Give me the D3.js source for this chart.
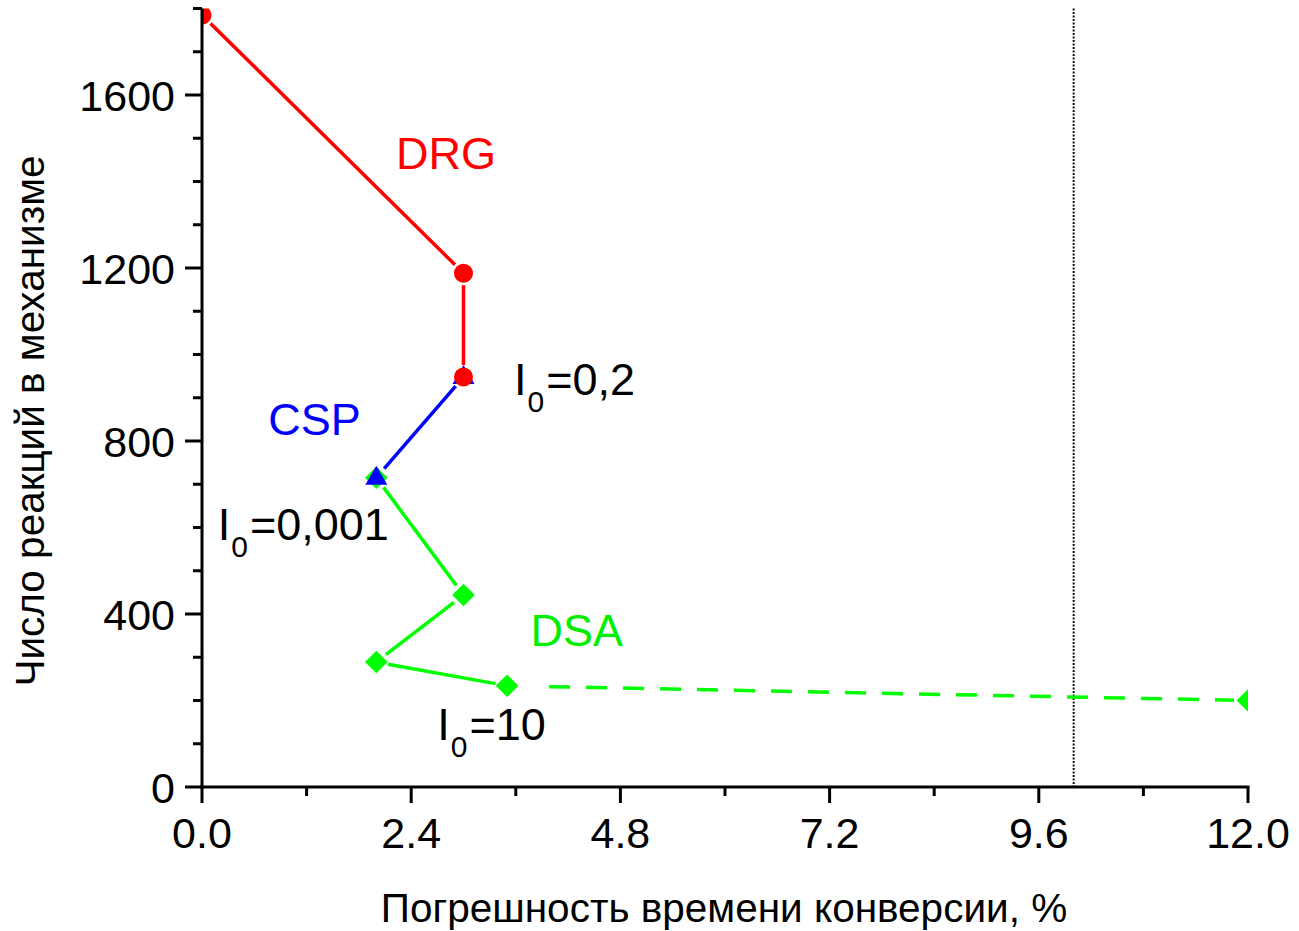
<!DOCTYPE html>
<html><head><meta charset="utf-8">
<script src="https://cdn.jsdelivr.net/npm/d3@7"></script>
<style>
html,body{margin:0;padding:0;background:#fff;}
text{font-family:"Liberation Sans",Arial,sans-serif;}
</style></head>
<body>
<svg id="chart" width="1299" height="931"></svg>
<script>
// ---- data ----
const drgX = [0, 3.0, 3.0];
const drgY = [1785, 1188, 948];
const cspX = [3.0, 2.0];
const cspY = [948, 715];
const dsaX = [2.0, 3.0, 2.0, 3.5];
const dsaY = [715, 444, 289, 234];
const dsaExtX = [3.5, 12.0];
const dsaExtY = [234, 200];
const refLineX = 10.0;
const xTicks = [0, 2.4, 4.8, 7.2, 9.6, 12.0];
const xMinorTicks = [1.2, 3.6, 6.0, 8.4, 10.8];
const yTicks = [0, 400, 800, 1200, 1600];
const yMinorTicks = [100,200,300,500,600,700,900,1000,1100,1300,1400,1500,1700,1800];
const labels = [
  {text: "DRG", color: "#ff0000", x: 2.8, y: 1430},
  {text: "CSP", color: "#0000ff", x: 1.29, y: 815},
  {text: "DSA", color: "#00ee00", x: 4.3, y: 325}
];
const ioLabels = [
  {main: "I", sub: "0", rest: "=0,2", x: 3.58, y: 907},
  {main: "I", sub: "0", rest: "=0,001", x: 0.18, y: 570},
  {main: "I", sub: "0", rest: "=10", x: 2.7, y: 109}
];

const svg = d3.select("#chart");
const L = 202, R = 1248, T = 8.5, B = 787;
const x = d3.scaleLinear().domain([0, 12]).range([L, R]);
const y = d3.scaleLinear().domain([0, 1800]).range([B, T]);

svg.append("defs").append("clipPath").attr("id","clip")
  .append("rect").attr("x", L).attr("y", T).attr("width", R-L).attr("height", B-T);

// reference dotted line
svg.append("line")
  .attr("x1", x(refLineX)).attr("x2", x(refLineX))
  .attr("y1", T).attr("y2", B)
  .attr("stroke", "#111").attr("stroke-width", 2).attr("stroke-dasharray", "2,1.5");

function seg(g, xs, ys, color, gap0, gap1, dash) {
  for (let i = 0; i < xs.length - 1; i++) {
    const x0 = x(xs[i]), y0 = y(ys[i]), x1 = x(xs[i+1]), y1 = y(ys[i+1]);
    const dx = x1 - x0, dy = y1 - y0, len = Math.hypot(dx, dy);
    const a = (i === 0 && gap0 != null) ? gap0 : 12;
    const b = (i === xs.length - 2 && gap1 != null) ? gap1 : 12;
    g.append("line")
      .attr("x1", x0 + dx * a / len).attr("y1", y0 + dy * a / len)
      .attr("x2", x1 - dx * b / len).attr("y2", y1 - dy * b / len)
      .attr("stroke", color).attr("stroke-width", 3.5)
      .attr("stroke-dasharray", dash || null);
  }
}

const plot = svg.append("g").attr("clip-path", "url(#clip)");
const green = "#00ff00";

// DSA
seg(plot, dsaX, dsaY, green);
seg(plot, dsaExtX, dsaExtY, green, 42, 14, "21,16");
const diamond = d3.symbol().type(d3.symbolSquare).size(16*16);
plot.selectAll(".dsa").data(dsaX.map((d,i)=>[d, dsaY[i]]).concat([[dsaExtX[1], dsaExtY[1]]]))
  .join("path").attr("d", diamond)
  .attr("transform", d => `translate(${x(d[0])},${y(d[1])}) rotate(45)`)
  .attr("fill", green);

// CSP
seg(plot, cspX, cspY, "#0000ff");
plot.selectAll(".csp").data(cspX.map((d,i)=>[d, cspY[i]]))
  .join("path")
  .attr("d", "M0,-12 L11,7 L-11,7 Z")
  .attr("transform", d => `translate(${x(d[0])},${y(d[1])})`)
  .attr("fill", "#0000ff");

// DRG
seg(plot, drgX, drgY, "#ff0000");
plot.selectAll(".drg").data(drgX.map((d,i)=>[d, drgY[i]]))
  .join("circle").attr("cx", d => x(d[0])).attr("cy", d => y(d[1])).attr("r", 9.5)
  .attr("fill", "#ff0000");

// axes
const axG = svg.append("g");
axG.append("line").attr("x1", L).attr("x2", L).attr("y1", T).attr("y2", B+1.5)
  .attr("stroke", "#000").attr("stroke-width", 3);
axG.append("line").attr("x1", L-1.5).attr("x2", R+1.5).attr("y1", B).attr("y2", B)
  .attr("stroke", "#000").attr("stroke-width", 3);

axG.selectAll(".xt").data(xTicks).join("line")
  .attr("x1", d => x(d)).attr("x2", d => x(d)).attr("y1", B).attr("y2", B + 16)
  .attr("stroke", "#000").attr("stroke-width", 3);
axG.selectAll(".xm").data(xMinorTicks).join("line")
  .attr("x1", d => x(d)).attr("x2", d => x(d)).attr("y1", B).attr("y2", B + 9)
  .attr("stroke", "#000").attr("stroke-width", 3);
axG.selectAll(".yt").data(yTicks).join("line")
  .attr("x1", L - 17).attr("x2", L).attr("y1", d => y(d)).attr("y2", d => y(d))
  .attr("stroke", "#000").attr("stroke-width", 3);
axG.selectAll(".ym").data(yMinorTicks).join("line")
  .attr("x1", L - 9).attr("x2", L).attr("y1", d => y(d)).attr("y2", d => y(d))
  .attr("stroke", "#000").attr("stroke-width", 3);

axG.selectAll(".xl").data(xTicks).join("text")
  .attr("x", d => x(d)).attr("y", 848).attr("text-anchor", "middle")
  .attr("font-size", 43).attr("fill", "#000").text(d => d3.format(".1f")(d));
axG.selectAll(".yl").data(yTicks).join("text")
  .attr("x", 175).attr("y", d => y(d) + 16).attr("text-anchor", "end")
  .attr("font-size", 43).attr("fill", "#000").text(d => d);

svg.append("text").attr("x", 724).attr("y", 922).attr("text-anchor", "middle")
  .attr("font-size", 40.5).attr("fill", "#000").text("Погрешность времени конверсии, %");
svg.append("text").attr("transform", "translate(44,421) rotate(-90)").attr("text-anchor", "middle")
  .attr("font-size", 40.5).attr("fill", "#000").text("Число реакций в механизме");

// series labels
svg.selectAll(".lab").data(labels).join("text")
  .attr("x", d => x(d.x)).attr("y", d => y(d.y)).attr("text-anchor", "middle")
  .attr("font-size", 45).attr("fill", d => d.color).text(d => d.text);

const io = svg.selectAll(".io").data(ioLabels).join("text")
  .attr("x", d => x(d.x)).attr("y", d => y(d.y))
  .attr("font-size", 45).attr("fill", "#000");
io.append("tspan").text(d => d.main);
io.append("tspan").attr("font-size", 30).attr("dy", 17).attr("dx", 1).text(d => d.sub);
io.append("tspan").attr("dy", -17).attr("dx", 2).text(d => d.rest);
</script>
</body></html>
